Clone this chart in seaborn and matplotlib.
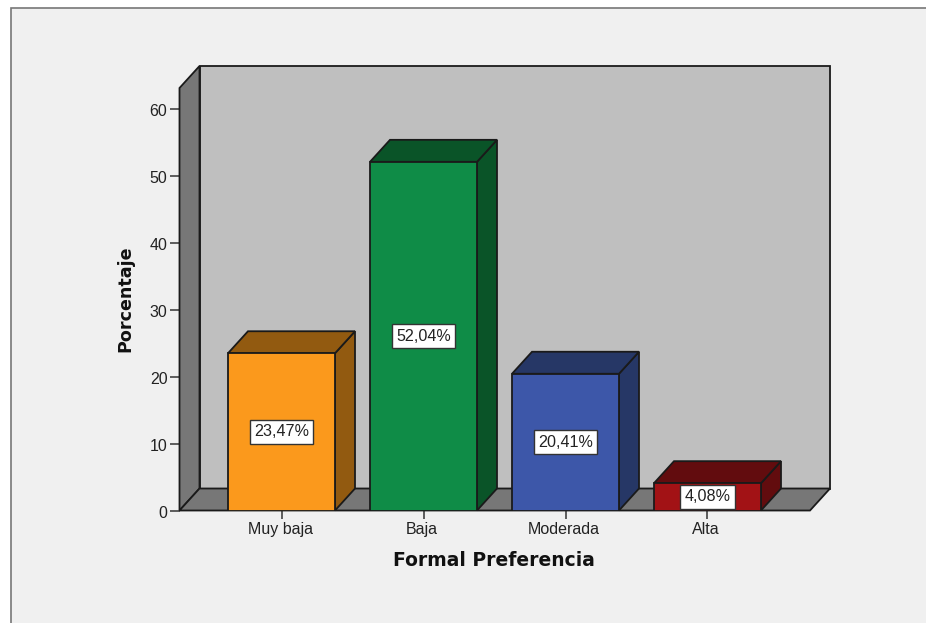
import matplotlib
matplotlib.use("Agg")
import matplotlib.pyplot as plt
from matplotlib.patches import Polygon, Rectangle
from matplotlib.transforms import ScaledTranslation
import pandas as pd
import seaborn as sns

categories = ["Muy baja", "Baja", "Moderada", "Alta"]
percentages = [23.47, 52.04, 20.41, 4.08]
value_labels = ["23,47%", "52,04%", "20,41%", "4,08%"]
front_colors = ["#FB991C", "#0F8C47", "#3D57A9", "#A21215"]
side_colors = ["#925A10", "#0A5428", "#263766", "#620C0E"]
y_ticks = [0, 10, 20, 30, 40, 50, 60]

W, H = 926, 623
sns.set_theme(style="white")
plt.rcParams["font.family"] = ["Liberation Sans", "DejaVu Sans"]

fig = plt.figure(figsize=(W / 100, H / 100), dpi=100, facecolor="white")
fig.add_artist(Rectangle((10.5 / W, -0.1), 1, 1.1 - 8.5 / H, transform=fig.transFigure,
                         facecolor="#F0F0F0", edgecolor="#777777", linewidth=1.2, zorder=-1))

left, right, top, bottom = 179.5, 830, 66, 510.5
ax = fig.add_axes([left / W, 1 - bottom / H, (right - left) / W, (bottom - top) / H])
ax.patch.set_visible(False)

px_x = 142.0   # pixels per category
px_y = 6.7     # pixels per percent
xmin = (left - 281.5) / px_x
xmax = (right - 281.5) / px_x
ymax = (bottom - top) / px_y
dx, dy = 20 / px_x, 22 / px_y
bar_w = 107 / px_x
EDGE = "#1A1A1A"
LW = 1.3

df = pd.DataFrame({"cat": categories, "pct": percentages})
sns.barplot(data=df, x="cat", y="pct", hue="cat", palette=front_colors, legend=False,
            width=bar_w, edgecolor=EDGE, linewidth=LW, saturation=1, ax=ax, zorder=4)
ax.set_xlim(xmin, xmax)
ax.set_ylim(0, ymax)

x_front_r = xmax - dx
y_back_t = ymax


def poly(pts, fc, z):
    ax.add_patch(Polygon(pts, closed=True, facecolor=fc, edgecolor=EDGE, linewidth=LW,
                         zorder=z, clip_on=False, joinstyle="miter"))


# back wall, side wall and floor of the box
poly([(xmin + dx, dy), (xmax, dy), (xmax, y_back_t), (xmin + dx, y_back_t)], "#BFBFBF", 1)
poly([(xmin, 0), (xmin + dx, dy), (xmin + dx, y_back_t), (xmin, y_back_t - dy)], "#777777", 2)
poly([(xmin, 0), (x_front_r, 0), (xmax, dy), (xmin + dx, dy)], "#777777", 2)

# side and top faces of each bar, plus value label
for i, (v, c, lab) in enumerate(zip(percentages, side_colors, value_labels)):
    x0, x1 = i - bar_w / 2, i + bar_w / 2
    poly([(x1, 0), (x1 + dx, dy), (x1 + dx, v + dy), (x1, v)], c, 3)
    poly([(x0, v), (x1, v), (x1 + dx, v + dy), (x0 + dx, v + dy)], c, 3)
    ax.text(i, v / 2, lab, ha="center", va="center", fontsize=11.6, color="#222222", zorder=6,
            bbox=dict(boxstyle="square,pad=0.26", facecolor="white", edgecolor="#333333", linewidth=1))

sns.despine(ax=ax, left=True, bottom=True, right=True, top=True)
ax.set_yticks(y_ticks)
ax.set_xticks(range(len(categories)))
ax.set_xticklabels(categories)
ax.tick_params(axis="y", left=True, length=7.2, width=1.1, color="#333333", pad=1.5,
               labelsize=11.5, labelcolor="#222222")
ax.tick_params(axis="x", bottom=True, length=5.5, width=1.1, color="#333333", pad=3,
               labelsize=11.5, labelcolor="#222222")

# small pixel nudges of tick labels
for lbl in ax.get_yticklabels():
    lbl.set_transform(lbl.get_transform() + ScaledTranslation(0, -1.3 / 100, fig.dpi_scale_trans))
for lbl in ax.get_xticklabels():
    lbl.set_transform(lbl.get_transform() + ScaledTranslation(-1.5 / 100, 0, fig.dpi_scale_trans))

title_font = dict(family="DejaVu Sans", fontweight="bold", color="#111111")
ax.set_xlabel("Formal Preferencia", va="center", fontsize=13.5, **title_font)
ax.set_ylabel("Porcentaje", va="center", fontsize=12.6, **title_font)
ax.xaxis.set_label_coords((494 - left) / (right - left), -(561 - bottom) / (bottom - top))
ax.yaxis.set_label_coords((125 - left) / (right - left), (bottom - 299) / (bottom - top))

fig.savefig("out.png", dpi=100)
